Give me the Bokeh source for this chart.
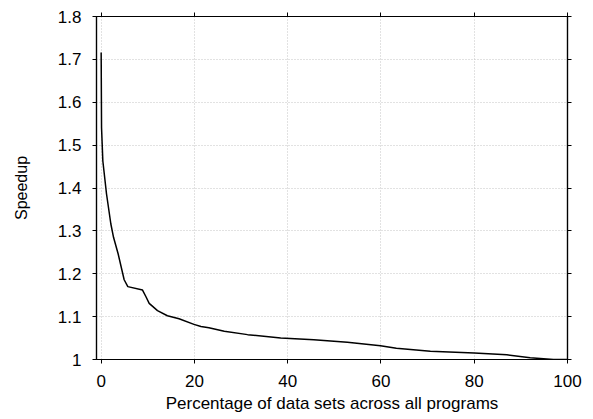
from bokeh.plotting import figure
from bokeh.models import LinearAxis, FixedTicker, ColumnDataSource
from bokeh.embed import file_html
from bokeh.resources import INLINE

# Sorted speedup curve: percentage of data sets vs. speedup
pct = [0.0, 0.08, 0.36, 1.15, 2.08, 2.65, 3.65, 4.93, 5.72, 8.87, 9.58, 10.3,
       12.08, 14.2, 16.7, 19.9, 21.4, 23.1, 26.4, 31.4, 38.5, 45.6, 52.8,
       59.9, 63.3, 70.6, 80.0, 87.0, 92.0, 97.0, 100.0]
speedup = [1.716, 1.541, 1.463, 1.386, 1.316, 1.285, 1.246, 1.186, 1.170,
           1.162, 1.147, 1.131, 1.114, 1.102, 1.095, 1.082, 1.077, 1.074,
           1.066, 1.058, 1.050, 1.046, 1.040, 1.032, 1.026, 1.019, 1.015,
           1.011, 1.004, 1.000, 1.000]

x_ticks = [0, 20, 40, 60, 80, 100]
y_ticks = [1.0, 1.1, 1.2, 1.3, 1.4, 1.5, 1.6, 1.7, 1.8]
y_tick_labels = ["1", "1.1", "1.2", "1.3", "1.4", "1.5", "1.6", "1.7", "1.8"]

FONT = "Liberation Sans"
FS = "17px"

p = figure(width=593, height=419, output_backend="svg", toolbar_location=None,
           x_range=(-1, 100), y_range=(1.0, 1.8),
           min_border_left=96, min_border_right=26,
           min_border_top=16, min_border_bottom=60)

p.background_fill_color = "white"
p.border_fill_color = "white"
p.outline_line_color = "black"
p.outline_line_width = 1.2

src = ColumnDataSource(dict(x=pct, y=speedup))
p.line("x", "y", source=src, line_color="black", line_width=1.5)

# primary axes
for ax in (p.xaxis[0], p.yaxis[0]):
    ax.axis_line_color = "black"
    ax.axis_line_width = 1.2
    ax.major_tick_line_color = "black"
    ax.major_tick_out = 4
    ax.major_tick_in = 0
    ax.minor_tick_line_color = None
    ax.major_label_text_font = FONT
    ax.major_label_text_font_size = FS
    ax.major_label_text_color = "black"
    ax.axis_label_text_font = FONT
    ax.axis_label_text_font_size = FS
    ax.axis_label_text_font_style = "normal"
    ax.axis_label_text_color = "black"

p.xaxis[0].ticker = FixedTicker(ticks=x_ticks)
p.yaxis[0].ticker = FixedTicker(ticks=y_ticks)
p.yaxis[0].major_label_overrides = dict(zip(y_ticks, y_tick_labels))
p.xaxis[0].axis_label = "Percentage of data sets across all programs"
p.yaxis[0].axis_label = "Speedup"
p.yaxis[0].axis_label_text_font_size = "16px"
p.xaxis[0].major_label_standoff = 11
p.yaxis[0].major_label_standoff = 11
p.xaxis[0].axis_label_standoff = 4
p.yaxis[0].axis_label_standoff = 25

# mirrored axes on top and right, ticks only
for loc, ticks in (("above", x_ticks), ("right", y_ticks)):
    ax = LinearAxis(ticker=FixedTicker(ticks=ticks))
    ax.axis_line_color = "black"
    ax.axis_line_width = 1.2
    ax.major_tick_line_color = "black"
    ax.major_tick_out = 4
    ax.major_tick_in = 0
    ax.minor_tick_line_color = None
    ax.major_label_overrides = {t: "" for t in ticks}
    ax.major_label_standoff = 0
    p.add_layout(ax, loc)

# dotted grid
for g in (p.xgrid[0], p.ygrid[0]):
    g.grid_line_color = "#c4c4c4"
    g.grid_line_dash = "1 2"
    g.grid_line_width = 1
p.xgrid[0].ticker = FixedTicker(ticks=x_ticks)
p.ygrid[0].ticker = FixedTicker(ticks=y_ticks)

open("out.html", "w").write(file_html(p, INLINE))
